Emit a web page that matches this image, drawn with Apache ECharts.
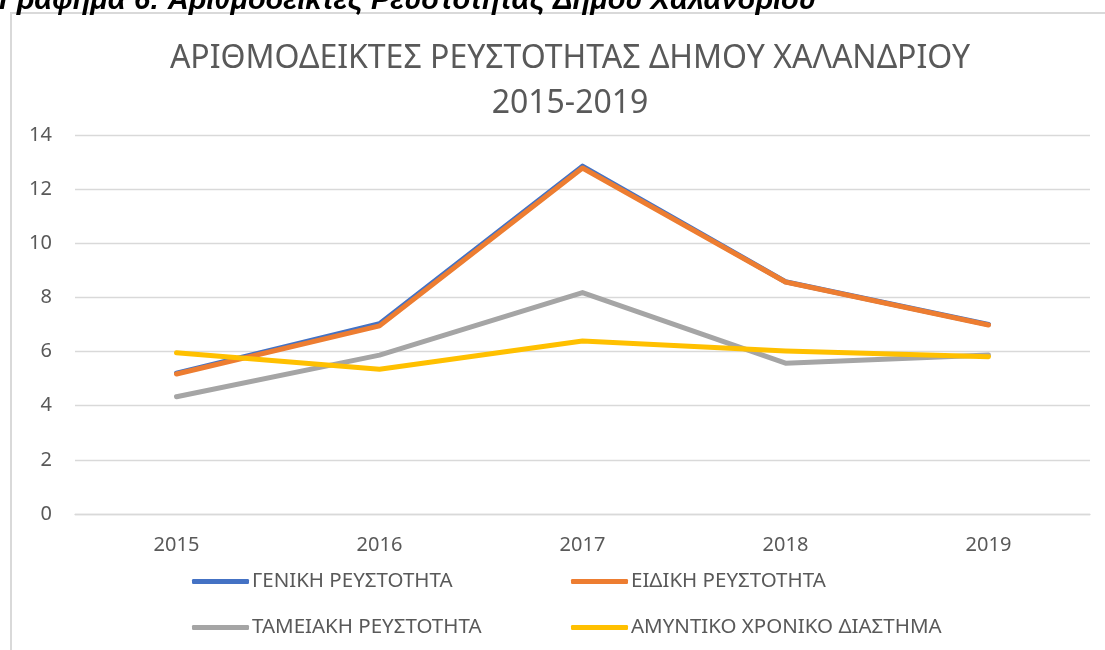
<!DOCTYPE html>
<html>
<head>
<meta charset="utf-8">
<script src="https://cdn.jsdelivr.net/npm/echarts@6/dist/echarts.min.js"></script>
<style>
  html, body { margin: 0; padding: 0; background: #fff; }
  #main { width: 1105px; height: 650px; }
</style>
</head>
<body>
<div id="main"></div>
<script>
// data
const years = ['2015', '2016', '2017', '2018', '2019']
const geniki = [5.2, 7.03, 12.85, 8.58, 7.0]
const eidiki = [5.17, 6.95, 12.78, 8.57, 6.98]
const tameiaki = [4.33, 5.87, 8.18, 5.57, 5.87]
const amyntiko = [5.96, 5.35, 6.39, 6.02, 5.81]
const names = ['ΓΕΝΙΚΗ ΡΕΥΣΤΟΤΗΤΑ', 'ΕΙΔΙΚΗ ΡΕΥΣΤΟΤΗΤΑ', 'ΤΑΜΕΙΑΚΗ ΡΕΥΣΤΟΤΗΤΑ', 'ΑΜΥΝΤΙΚΟ ΧΡΟΝΙΚΟ ΔΙΑΣΤΗΜΑ']
const colors = ['#4472C4', '#ED7D31', '#A5A5A5', '#FFC000']

const chart = echarts.init(document.getElementById('main'))
const font = 'Noto Sans'

// one legend per item, so the two columns line up like the original
const legendPos = [[187, 566], [566, 566], [187, 612], [566, 612]]
const legends = names.map((n, i) => ({
  data: [n],
  left: legendPos[i][0],
  top: legendPos[i][1],
  itemWidth: 57,
  itemHeight: 5,
  icon: 'roundRect',
  itemGap: 0,
  textStyle: { color: '#595959', fontSize: 20.5, fontFamily: font, padding: [0, 0, 0, -2] }
}))

const option = {
  animation: false,
  color: colors,
  title: {
    text: 'ΑΡΙΘΜΟΔΕΙΚΤΕΣ ΡΕΥΣΤΟΤΗΤΑΣ ΔΗΜΟΥ ΧΑΛΑΝΔΡΙΟΥ\n2015-2019',
    left: 565,
    textAlign: 'center',
    top: 31,
    textStyle: { color: '#595959', fontSize: 32, fontWeight: 'normal', fontFamily: font, lineHeight: 45 }
  },
  graphic: [
    {
      type: 'rect',
      shape: { x: 11, y: 13, width: 1120, height: 660 },
      style: { fill: 'none', stroke: '#d9d9d9', lineWidth: 2 },
      z: -1
    },
    {
      type: 'text',
      x: -1,
      y: 15,
      style: {
        text: 'Γράφημα 6: Αριθμοδείκτες Ρευστότητας Δήμου Χαλανδρίου',
        fill: '#000',
        font: 'italic bold 29px "Liberation Sans"',
        verticalAlign: 'bottom'
      }
    }
  ],
  legend: legends,
  grid: { left: 75, right: 15, top: 135, bottom: 136 },
  xAxis: {
    type: 'category',
    data: years,
    boundaryGap: true,
    axisLine: { lineStyle: { color: '#d9d9d9', width: 1.3 } },
    axisTick: { show: false },
    axisLabel: { color: '#595959', fontSize: 20, fontFamily: font, margin: 21 }
  },
  yAxis: {
    type: 'value',
    min: 0,
    max: 14,
    interval: 2,
    axisLine: { show: false },
    axisTick: { show: false },
    splitLine: { lineStyle: { color: '#d9d9d9', width: 1.3 } },
    axisLabel: { color: '#595959', fontSize: 20, fontFamily: font, margin: 23 }
  },
  series: [geniki, eidiki, tameiaki, amyntiko].map((d, i) => ({
    name: names[i],
    type: 'line',
    data: d,
    symbol: 'none',
    lineStyle: { width: 5, cap: 'round', join: 'round' }
  }))
}
chart.setOption(option)
</script>
</body>
</html>
